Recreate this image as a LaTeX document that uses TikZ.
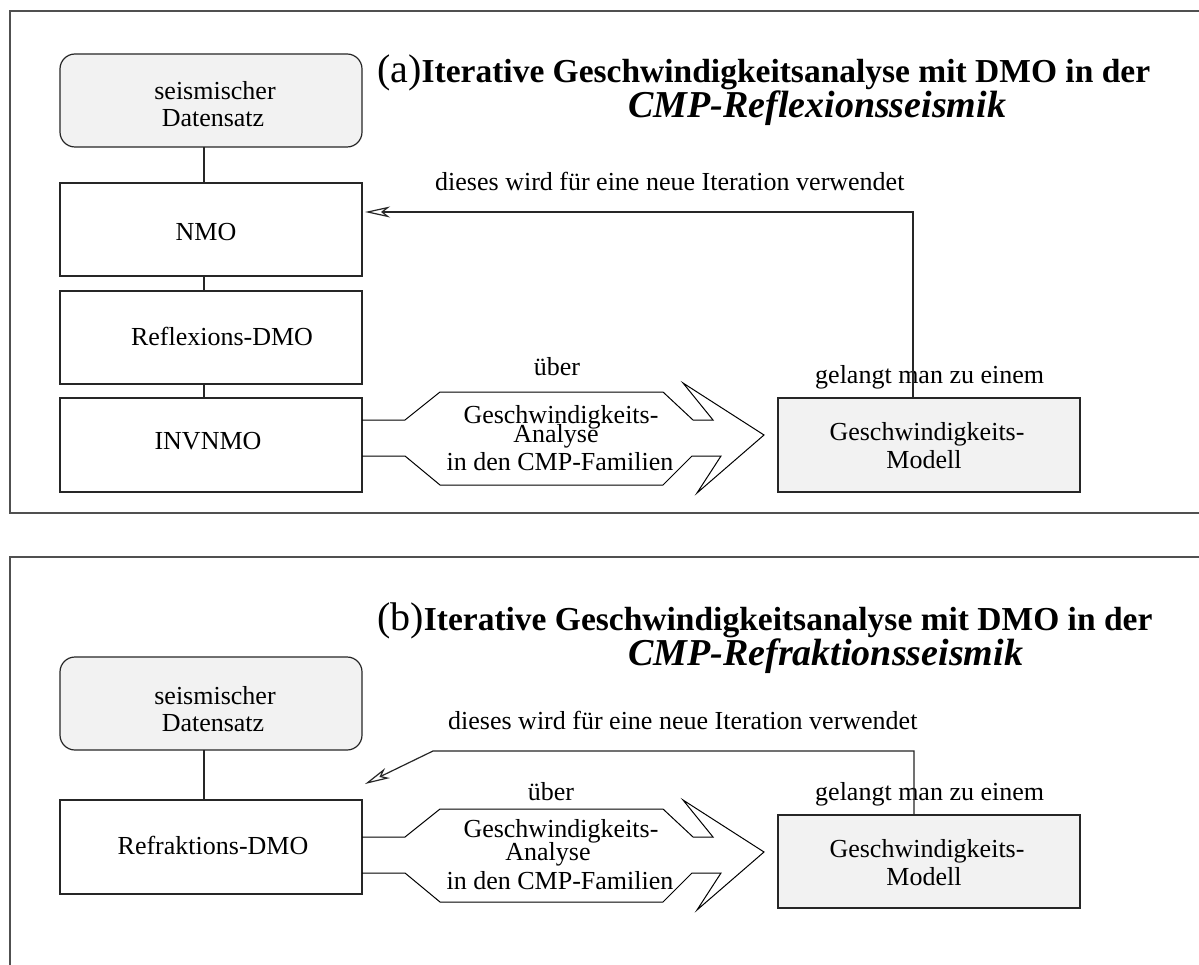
\documentclass[tikz,border=0pt]{standalone}
\usepackage{fontspec}
\setmainfont{Liberation Serif}
\usetikzlibrary{arrows.meta}
\definecolor{boxfill}{HTML}{F2F2F2}
\definecolor{framegray}{HTML}{505050}
\newcommand\txtsz{\fontsize{26}{30}\selectfont}
\tikzset{
  panel/.style={draw=framegray, line width=1.6pt},
  box/.style={draw=black!85, line width=1.2pt, fill=white, minimum width=302pt,
    minimum height=93pt, inner sep=0pt, outer sep=0pt},
  graybox/.style={box, fill=boxfill},
  startbox/.style={graybox, rounded corners=15pt},
  lbl/.style={font=\txtsz, anchor=base, inner sep=0pt},
  lblw/.style={lbl, anchor=base west},
  conn/.style={draw=black!85, line width=1.2pt},
  fb/.style={draw=black!85, line width=1.2pt,
    -{Stealth[open, length=25pt, width=11pt, inset=7pt]}},
  fat/.style={draw=black, line width=1pt, line join=miter},
  ttlone/.style={anchor=base west, inner sep=0pt},
  ttltwo/.style={anchor=base west, inner sep=0pt,
    font=\fontsize{38}{42}\selectfont\bfseries\itshape},
}
\newcommand\ttlhead[1]{{\fontsize{40}{44}\selectfont(#1)}{\fontsize{33.5}{38}\selectfont\bfseries Iterative Geschwindigkeitsanalyse mit DMO in der}}
% broad arrow leaving the right side of a box
\newcommand\fatarrowpath[1]{%
  \draw[fat] (#1.east |- 0,420) -- (405,420) -- (440,392) -- (663,392) -- (693,420)
    -- (713,420) -- (683,383) -- (764,435) -- (697,493) -- (721,456) -- (692,456)
    -- (663,485) -- (440,485) -- (405,456) -- (#1.east |- 0,456);}
\begin{document}
\begin{tikzpicture}[x=1pt, y=-1pt]
\useasboundingbox (0,0) rectangle (1199,965);
\clip (0,0) rectangle (1199,965);
\fill[white] (0,0) rectangle (1199,965);

% ---------- panel (a): reflection seismics ----------
\draw[panel] (1210,11) -- (10,11) -- (10,513) -- (1210,513);

\node[ttlone] (ta1) at (377,83) {\ttlhead{a}};
\node[ttltwo] (ta2) at (628,118) {CMP-Reflexionsseismik};

\node[startbox] (sa) at (211,100.5) {};
\node[box] (nmo) at (211,229.5) {};
\node[box] (rdmo) at (211,337.5) {};
\node[box, minimum height=94pt] (inv) at (211,445) {};
\node[graybox, minimum height=94pt] (moda) at (929,445) {};

\node[lbl] (sa1) at (215,100) {seismischer};
\node[lbl] (sa2) at (213,127) {Datensatz};
\node[lbl] (nmot) at (206,241) {NMO};
\node[lbl] (rdmot) at (222,346) {Reflexions-DMO};
\node[lbl] (invt) at (208,449) {INVNMO};
\node[lbl] (moda1) at (927,440) {Geschwindigkeits-};
\node[lbl] (moda2) at (924,468) {Modell};

\draw[conn] ([xshift=-7pt]sa.south) -- ([xshift=-7pt]nmo.north);
\draw[conn] ([xshift=-7pt]nmo.south) -- ([xshift=-7pt]rdmo.north);
\draw[conn] ([xshift=-7pt]rdmo.south) -- ([xshift=-7pt]inv.north);

\fatarrowpath{inv}
\node[lbl] (ueba) at (557,375) {über};
\node[lbl] (ana1) at (561,423) {Geschwindigkeits-};
\node[lbl] (ana2) at (556,442) {Analyse};
\node[lbl] (ana3) at (560,470) {in den CMP-Familien};

\node[lblw] (gela) at (815,383) {gelangt man zu einem};
\draw[fb] ([xshift=-16pt]moda.north) |- ([xshift=3pt, yshift=17.5pt]nmo.east);
\node[lblw] (itera) at (435,191) {dieses wird für eine neue Iteration verwendet};

% ---------- panel (b): refraction seismics ----------
\draw[panel] (1210,557) -- (10,557) -- (10,975);

\node[ttlone] (tb1) at (377,630) {\ttlhead{b}};
\node[ttltwo] (tb2) at (628,665) {CMP-Refraktionsseismik};

\node[startbox] (sb) at (211,703.5) {};
\node[box, minimum height=94pt] (refr) at (211,847) {};
\node[graybox] (modb) at (929,861.5) {};

\node[lbl] (sb1) at (215,704) {seismischer};
\node[lbl] (sb2) at (213,731) {Datensatz};
\node[lbl] (refrt) at (213,854) {Refraktions-DMO};
\node[lbl] (modb1) at (927,857) {Geschwindigkeits-};
\node[lbl] (modb2) at (924,885) {Modell};

\draw[conn] ([xshift=-7pt]sb.south) -- ([xshift=-7pt]refr.north);

\begin{scope}[yshift=-417pt]
  \fatarrowpath{refr}
\end{scope}
\node[lbl] (uebb) at (551,800) {über};
\node[lbl] (anb1) at (561,837) {Geschwindigkeits-};
\node[lbl] (anb2) at (548,860) {Analyse};
\node[lbl] (anb3) at (560,889) {in den CMP-Familien};

\node[lblw] (gelb) at (815,800) {gelangt man zu einem};
\coordinate (fbcorner) at (433,751);
\coordinate (fbtip) at (365,784);
\draw[fb] ([xshift=-15pt]modb.north) |- (fbcorner) -- (fbtip);
\node[lblw] (iterb) at (448,729) {dieses wird für eine neue Iteration verwendet};
\end{tikzpicture}
\end{document}
